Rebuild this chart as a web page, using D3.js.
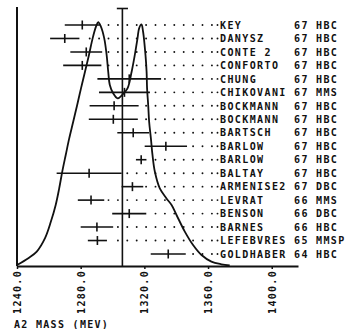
<!DOCTYPE html>
<html>
<head>
<meta charset="utf-8">
<script src="https://cdn.jsdelivr.net/npm/d3@7"></script>
<style>
  html, body { margin: 0; padding: 0; background: #fff; }
  svg { display: block; }
  text { font-family: "DejaVu Sans Mono", "Liberation Mono", monospace; font-weight: bold; fill: #111; }
</style>
</head>
<body>
<svg id="chart" width="362" height="329"></svg>
<script>
// ---- data ----
const names = ["KEY","DANYSZ","CONTE 2","CONFORTO","CHUNG","CHIKOVANI","BOCKMANN","BOCKMANN","BARTSCH","BARLOW","BARLOW","BALTAY","ARMENISE2","LEVRAT","BENSON","BARNES","LEFEBVRES","GOLDHABER"];
const years = ["67","67","67","67","67","67","67","67","67","67","67","67","67","66","66","66","65","64"];
const methods = ["HBC","HBC","HBC","HBC","HBC","MMS","HBC","HBC","HBC","HBC","HBC","HBC","DBC","MMS","DBC","HBC","MMSP","HBC"];
const masses = [1281, 1270, 1283.5, 1281, 1310.5, 1307.5, 1301, 1300.5, 1313, 1333.5, 1318, 1285.3, 1312.5, 1286.5, 1310.5, 1290.2, 1290.5, 1335];
const errors = [11, 9.2, 10, 12, 20, 16, 15.4, 15.4, 10, 13.3, 3.3, 20.4, 6.8, 8.3, 10.7, 10.2, 6, 11];
const meanMass = 1306.2;
const meanErr = 3.5;
const tickValues = [1240, 1280, 1320, 1360, 1400];
const axisTitle = "A2 MASS (MEV)";
// ideogram curve (mass, relative height)
const curveMass = [1240, 1247.1, 1252.4, 1257.6, 1261.3, 1264.3, 1266.5, 1268.4, 1270.6, 1272.8, 1275.3, 1277.8, 1280.2, 1282.7, 1285.2, 1287.5, 1289.6, 1291.0, 1292.7, 1294.8, 1296.3, 1297.3, 1298.3, 1300.4, 1303.2, 1306.1, 1309.4, 1312.0, 1314.0, 1315.7, 1316.7, 1318.2, 1319.2, 1320.7, 1321.4, 1321.7, 1322.4, 1323.0, 1324.1, 1325.1, 1326.6, 1329.7, 1333.9, 1337.1, 1340.2, 1345.4, 1350.6, 1355.9, 1362.1, 1368.4, 1373.6];
const curveHeight = [0.004, 0.032, 0.059, 0.114, 0.182, 0.25, 0.318, 0.386, 0.455, 0.523, 0.591, 0.66, 0.728, 0.796, 0.865, 0.933, 0.981, 0.999, 0.981, 0.933, 0.865, 0.796, 0.742, 0.708, 0.687, 0.701, 0.728, 0.796, 0.865, 0.933, 0.974, 0.99, 0.96, 0.865, 0.796, 0.728, 0.66, 0.591, 0.523, 0.455, 0.386, 0.318, 0.277, 0.25, 0.209, 0.141, 0.086, 0.045, 0.018, 0.007, 0.002];

// ---- layout ----
const svg = d3.select("#chart");
const ink = "#111";
const x = d3.scaleLinear().domain([1240, 1416.5]).range([17, 298]);
const y = d3.scaleLinear().domain([0, names.length - 1]).range([25, 254]);
const h = d3.scaleLinear().domain([0, 1]).range([266, 22]);
const axisY = 266;

// left frame line
svg.append("line").attr("x1", x(1240)).attr("x2", x(1240)).attr("y1", 7).attr("y2", axisY)
  .attr("stroke", ink).attr("stroke-width", 2);

// x axis
const axis = d3.axisBottom(x).tickValues(tickValues).tickFormat(d3.format(".1f")).tickSizeInner(3).tickSizeOuter(0);
const gAxis = svg.append("g").attr("transform", `translate(0,${axisY})`).call(axis);
gAxis.select(".domain").attr("stroke", ink).attr("stroke-width", 2);
gAxis.selectAll(".tick line").attr("stroke", ink).attr("stroke-width", 1.5);
gAxis.selectAll(".tick text")
  .attr("transform", "translate(0,4) rotate(-90)")
  .attr("x", 0).attr("y", 0).attr("dy", "0.35em")
  .attr("text-anchor", "end")
  .style("font-family", "'DejaVu Sans Mono', monospace")
  .style("font-weight", "bold")
  .style("font-size", "10px")
  .style("letter-spacing", "1.3px")
  .attr("fill", ink);

svg.append("text").attr("x", 14).attr("y", 328).text(axisTitle)
  .style("font-size", "10px").style("letter-spacing", "1.3px");

// dotted leader lines
const nameDotX = 217.5;
const gridStep = 9.4;
const lastGridX = 211.9;
const gDots = svg.append("g");
names.forEach((n, i) => {
  const end = x(masses[i] + errors[i]);
  const pts = [];
  for (let px = lastGridX; px > end + 2.5; px -= gridStep) pts.push(px);
  pts.push(nameDotX);
  gDots.selectAll(null).data(pts).enter().append("circle")
    .attr("cx", d => d).attr("cy", y(i)).attr("r", 0.95).attr("fill", ink);
});

// mean vertical line
svg.append("line").attr("x1", x(meanMass)).attr("x2", x(meanMass)).attr("y1", 8.5).attr("y2", axisY)
  .attr("stroke", ink).attr("stroke-width", 1.6);
svg.append("line").attr("x1", x(meanMass - meanErr)).attr("x2", x(meanMass + meanErr)).attr("y1", 8.5).attr("y2", 8.5)
  .attr("stroke", ink).attr("stroke-width", 1.6);

// error bars
const gBars = svg.append("g").attr("stroke", ink).attr("stroke-width", 1.6);
names.forEach((n, i) => {
  gBars.append("line").attr("x1", x(masses[i] - errors[i])).attr("x2", x(masses[i] + errors[i]))
    .attr("y1", y(i)).attr("y2", y(i));
  gBars.append("line").attr("x1", x(masses[i])).attr("x2", x(masses[i]))
    .attr("y1", y(i) - 4.5).attr("y2", y(i) + 4.5);
});

// ideogram curve
const curvePts = curveMass.map((m, i) => [m, curveHeight[i]]);
svg.append("path").datum(curvePts)
  .attr("d", d3.line().x(d => x(d[0])).y(d => h(d[1])).curve(d3.curveCatmullRom.alpha(0.5)))
  .attr("fill", "none").attr("stroke", ink).attr("stroke-width", 1.8);

// row labels
const gLab = svg.append("g").style("font-size", "10px").style("letter-spacing", "1.4px");
names.forEach((n, i) => {
  gLab.append("text").attr("x", 220).attr("y", y(i) + 3.7).text(n);
  gLab.append("text").attr("x", 294).attr("y", y(i) + 3.7).text(years[i]);
  gLab.append("text").attr("x", 316).attr("y", y(i) + 3.7).text(methods[i]);
});
</script>
</body>
</html>
